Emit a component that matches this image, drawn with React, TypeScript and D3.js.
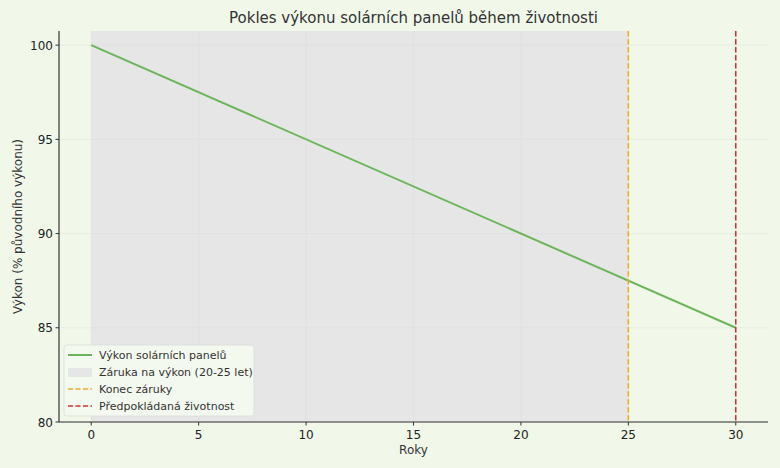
import * as d3 from 'd3';

const years = [0, 30];
const performance = [100, 85];
const warrantyEnd = 25;
const lifetime = 30;
const xTicks = [0, 5, 10, 15, 20, 25, 30];
const yTicks = [80, 85, 90, 95, 100];
const legendItems = [
  { label: 'Výkon solárních panelů', kind: 'line', color: '#6db55a' },
  { label: 'Záruka na výkon (20-25 let)', kind: 'area', color: '#e6e6e6' },
  { label: 'Konec záruky', kind: 'dash', color: '#f0a828' },
  { label: 'Předpokládaná životnost', kind: 'dash', color: '#dc2a2e' },
];

const W = 780;
const H = 468;
const margin = { left: 59, right: 12, top: 31, bottom: 46 };
const font = '"DejaVu Sans", sans-serif';

const App = () => {
  const x = d3.scaleLinear().domain([-1.5, 31.5]).range([margin.left, W - margin.right]);
  const y = d3.scaleLinear().domain([80, 100.75]).range([H - margin.bottom, margin.top]);
  const points = years.map((yr, i) => [yr, performance[i]] as [number, number]);
  const line = d3
    .line<[number, number]>()
    .x((d) => x(d[0]))
    .y((d) => y(d[1]));

  const top = y(100.75);
  const bottom = y(80);

  return (
    <svg
      width={W}
      height={H}
      style={{ position: 'absolute', left: 0, top: 0, background: '#f1f8ea' }}
      fontFamily={font}
    >
      <rect x={0} y={0} width={W} height={H} fill="#f1f8ea" />
      <rect x={x(0)} y={top} width={x(warrantyEnd) - x(0)} height={bottom - top} fill="#e6e6e6" />

      {xTicks.map((t) => (
        <line key={'gx' + t} x1={x(t)} x2={x(t)} y1={top} y2={bottom} stroke="#d8d8d8" strokeOpacity={0.45} strokeWidth={0.8} />
      ))}
      {yTicks.map((t) => (
        <line key={'gy' + t} x1={margin.left} x2={W - margin.right} y1={y(t)} y2={y(t)} stroke="#d8d8d8" strokeOpacity={0.45} strokeWidth={0.8} />
      ))}

      <path d={line(points) || ''} fill="none" stroke="#6db55a" strokeWidth={2} />
      <line x1={x(warrantyEnd)} x2={x(warrantyEnd)} y1={top} y2={bottom} stroke="#f0a828" strokeWidth={1.5} strokeDasharray="5.5,2.5" />
      <line x1={x(lifetime)} x2={x(lifetime)} y1={top} y2={bottom} stroke="#dc2a2e" strokeWidth={1.5} strokeDasharray="5.5,2.5" />

      <line x1={margin.left} x2={margin.left} y1={top} y2={bottom} stroke="#333" strokeWidth={1.2} />
      <line x1={margin.left} x2={W - margin.right} y1={bottom} y2={bottom} stroke="#333" strokeWidth={1.2} />

      {xTicks.map((t) => (
        <g key={'tx' + t}>
          <line x1={x(t)} x2={x(t)} y1={bottom} y2={bottom + 3.5} stroke="#333" />
          <text x={x(t)} y={bottom + 17} textAnchor="middle" fontSize={12} fill="#222">
            {t}
          </text>
        </g>
      ))}
      {yTicks.map((t) => (
        <g key={'ty' + t}>
          <line x1={margin.left - 3.5} x2={margin.left} y1={y(t)} y2={y(t)} stroke="#333" />
          <text x={margin.left - 6} y={y(t) + 4.5} textAnchor="end" fontSize={12} fill="#222">
            {t}
          </text>
        </g>
      ))}

      <text x={(margin.left + W - margin.right) / 2} y={23} textAnchor="middle" fontSize={15} fill="#333">
        Pokles výkonu solárních panelů během životnosti
      </text>
      <text x={(margin.left + W - margin.right) / 2} y={454} textAnchor="middle" fontSize={12} fill="#333">
        Roky
      </text>
      <text transform={`translate(22,${(top + bottom) / 2}) rotate(-90)`} textAnchor="middle" fontSize={12} fill="#333">
        Výkon (% původního výkonu)
      </text>

      <g transform="translate(64,345)">
        <rect x={0} y={0} width={190} height={71} rx={3} fill="#f4f9ef" stroke="#dcdcdc" strokeWidth={0.8} />
        {legendItems.map((item, i) => {
          const cy = 10 + i * 17;
          return (
            <g key={item.label}>
              {item.kind === 'area' ? (
                <rect x={4} y={cy - 4} width={24} height={9} fill={item.color} />
              ) : (
                <line
                  x1={4}
                  x2={28}
                  y1={cy}
                  y2={cy}
                  stroke={item.color}
                  strokeWidth={item.kind === 'line' ? 2 : 1.5}
                  strokeDasharray={item.kind === 'dash' ? '5,2.5' : undefined}
                />
              )}
              <text x={35} y={cy + 4} fontSize={11} fill="#333">
                {item.label}
              </text>
            </g>
          );
        })}
      </g>
    </svg>
  );
};

export default App;
